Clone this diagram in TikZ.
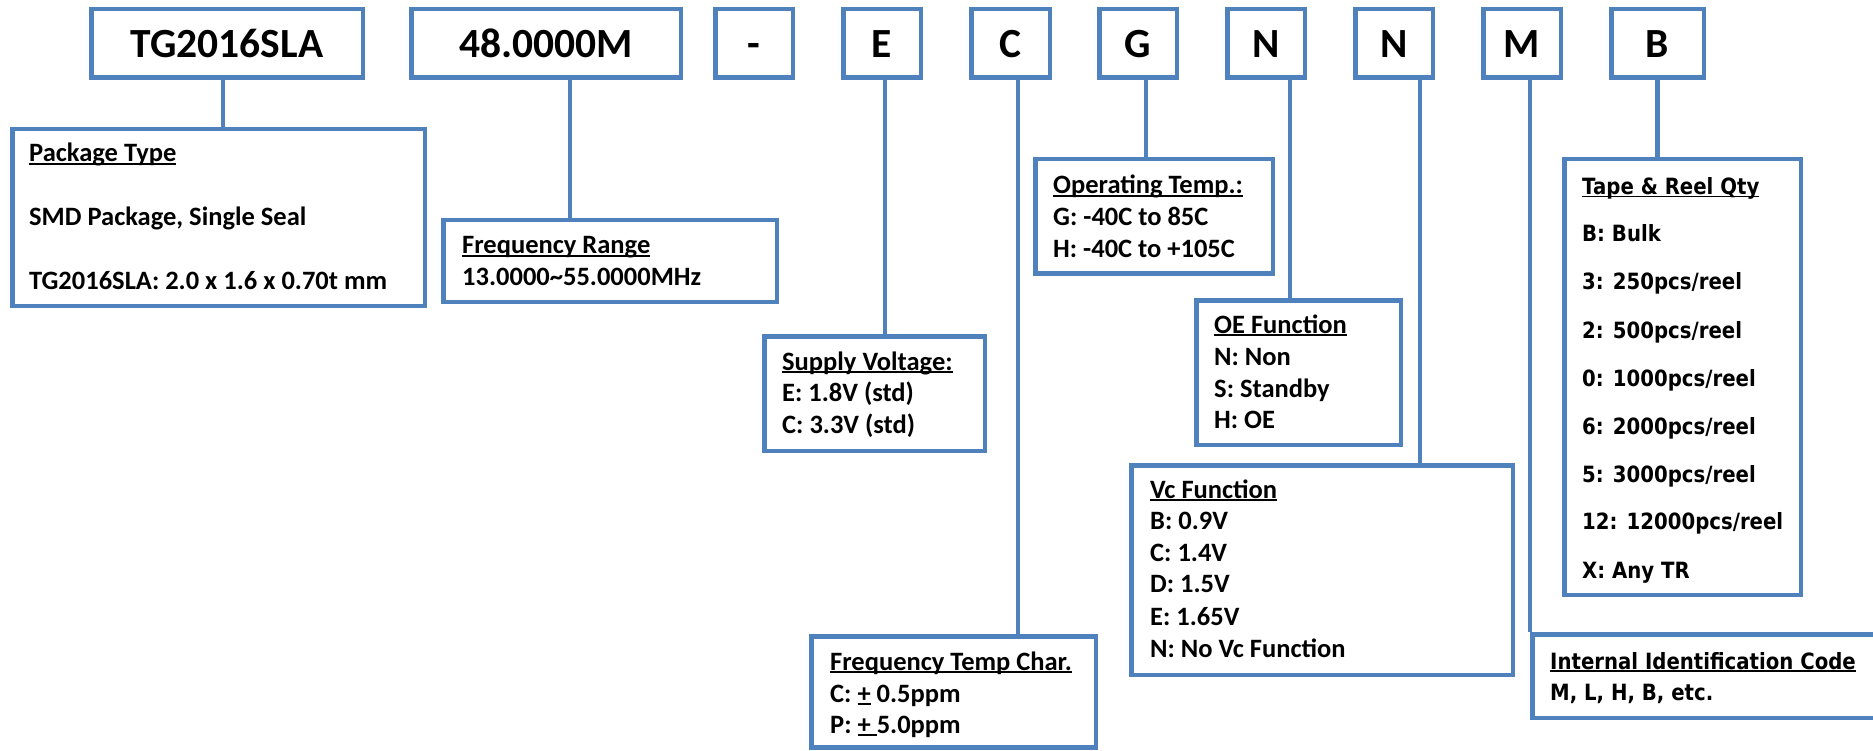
\documentclass[tikz,border=0pt]{standalone}
\usepackage{fontspec}
\setmainfont{Carlito}
\newfontfamily\tahomafont{DejaVu Sans}[FakeStretch=0.88]
\definecolor{bl}{HTML}{4F81BD}
\newcommand{\ulx}[1]{\setbox0=\hbox{#1}\rlap{\rule[-0.12em]{\wd0}{0.065em}}\box0\relax}
\newcommand{\mkbox}[7][]{\node[box,#1,minimum width={#5pt-#3pt-4.5pt},minimum height={#6pt-#4pt-4.5pt}] (#2) at ({(#3+#5)/2},{(#4+#6)/2}) {#7};}
\tikzset{
  box/.style={draw=bl, line width=4.5pt, fill=white, inner sep=0pt, rectangle},
  conn/.style={draw=bl, line width=4.5pt},
  code/.style={font=\fontsize{41.5}{48}\selectfont\bfseries, text height=29pt, text depth=0pt},
  txt/.style={anchor=base west, inner sep=0pt, font=\fontsize{26.5}{32}\selectfont\bfseries},
  ttxt/.style={anchor=base west, inner sep=0pt, font=\tahomafont\fontsize{22.4}{27}\selectfont\bfseries},
}
\begin{document}
\begin{tikzpicture}[x=1pt,y=-1pt]
\fill[white] (0,0) rectangle (1873,751);
\useasboundingbox (0,0) rectangle (1873,751);
% code boxes
\mkbox[code]{tg}{89}{7}{365}{80}{TG2016SLA}
\mkbox[code]{fq}{409}{7}{683}{80}{48.0000M}
\mkbox[code]{ds}{713}{7}{795}{80}{-}
\mkbox[code]{ce}{841}{7}{923}{80}{E}
\mkbox[code]{cc}{969}{7}{1052}{80}{C}
\mkbox[code]{cg}{1097}{7}{1179}{80}{G}
\mkbox[code]{cn}{1225}{7}{1307}{80}{N}
\mkbox[code]{cv}{1353}{7}{1435}{80}{N}
\mkbox[code]{cm}{1481}{7}{1563}{80}{M}
\mkbox[code]{cb}{1609}{7}{1706}{80}{B}
% description boxes
\mkbox{pkg}{10}{127}{427}{308}{}
\mkbox{frb}{441}{218}{779}{304}{}
\mkbox{svb}{762}{334}{987}{453}{}
\mkbox{ftb}{809}{634}{1098}{749.5}{}
\mkbox{opb}{1033}{157}{1275}{276}{}
\mkbox{oeb}{1194}{298}{1403}{447}{}
\mkbox{vcb}{1129}{463}{1515}{677}{}
\mkbox{trb}{1562}{157}{1803}{597}{}
\mkbox{idb}{1530}{632}{1920}{720}{}
% connectors
\draw[conn] ([xshift=-4pt]tg.south) -- ([xshift=-4pt]tg.south |- pkg.north);
\draw[conn] ([xshift=24pt]fq.south) -- ([xshift=24pt]fq.south |- frb.north);
\draw[conn] ([xshift=3pt]ce.south) -- ([xshift=3pt]ce.south |- svb.north);
\draw[conn] ([xshift=7.5pt]cc.south) -- ([xshift=7.5pt]cc.south |- ftb.north);
\draw[conn] ([xshift=8pt]cg.south) -- ([xshift=8pt]cg.south |- opb.north);
\draw[conn] ([xshift=24pt]cn.south) -- ([xshift=24pt]cn.south |- oeb.north);
\draw[conn] ([xshift=26pt]cv.south) -- ([xshift=26pt]cv.south |- vcb.north);
\draw[conn] (cm.south -| idb.west) -- (idb.north west);
\draw[conn] (cb.south) -- (cb.south |- trb.north);
% texts
\node[txt] (pk1) at (29,162) {\ulx{Package Type}};
\node[txt] (pk2) at (29,226) {SMD Package, Single Seal};
\node[txt] (pk3) at (29,290) {TG2016SLA: 2.0 x 1.6 x 0.70t mm};
\node[txt] (fr1) at (462,254) {\ulx{Frequency Range}};
\node[txt] (fr2) at (462,285) {13.0000\textasciitilde 55.0000MHz};
\node[txt] (sv1) at (782,370) {\ulx{Supply Voltage:}};
\node[txt] (sv2) at (782,401) {E: 1.8V (std)};
\node[txt] (sv3) at (782,433) {C: 3.3V (std)};
\node[txt] (ft1) at (830,670) {\ulx{Frequency Temp Char.}};
\node[txt] (ft2) at (830,702) {C: \ulx{+} 0.5ppm};
\node[txt] (ft3) at (830,733) {P: \ulx{+\ }5.0ppm};
\node[txt] (op1) at (1053,194) {\ulx{Operating Temp.:}};
\node[txt] (op2) at (1053,226) {G: -40C to 85C};
\node[txt] (op3) at (1053,258) {H: -40C to +105C};
\node[txt] (oe1) at (1214,333) {\ulx{OE Function}};
\node[txt] (oe2) at (1214,365) {N: Non};
\node[txt] (oe3) at (1214,397) {S: Standby};
\node[txt] (oe4) at (1214,428) {H: OE};
\node[txt] (vc1) at (1150,498) {\ulx{Vc Function}};
\node[txt] (vc2) at (1150,529) {B: 0.9V};
\node[txt] (vc3) at (1150,561) {C: 1.4V};
\node[txt] (vc4) at (1150,592) {D: 1.5V};
\node[txt] (vc5) at (1150,625) {E: 1.65V};
\node[txt] (vc6) at (1150,657) {N: No Vc Function};
\node[ttxt] (tr1) at (1582,194.5) {\ulx{Tape \& Reel Qty}};
\node[ttxt] (tr2) at (1582,242) {B: Bulk};
\node[ttxt] (tr3) at (1582,290) {3: 250pcs/reel};
\node[ttxt] (tr4) at (1582,338) {2: 500pcs/reel};
\node[ttxt] (tr5) at (1582,386) {0: 1000pcs/reel};
\node[ttxt] (tr6) at (1582,434) {6: 2000pcs/reel};
\node[ttxt] (tr7) at (1582,482) {5: 3000pcs/reel};
\node[ttxt] (tr8) at (1582,529) {12: 12000pcs/reel};
\node[ttxt] (tr9) at (1582,578) {X: Any TR};
\node[ttxt] (id1) at (1550,669) {\ulx{Internal Identification Code}};
\node[ttxt] (id2) at (1550,700) {M, L, H, B, etc.};
\end{tikzpicture}
\end{document}
